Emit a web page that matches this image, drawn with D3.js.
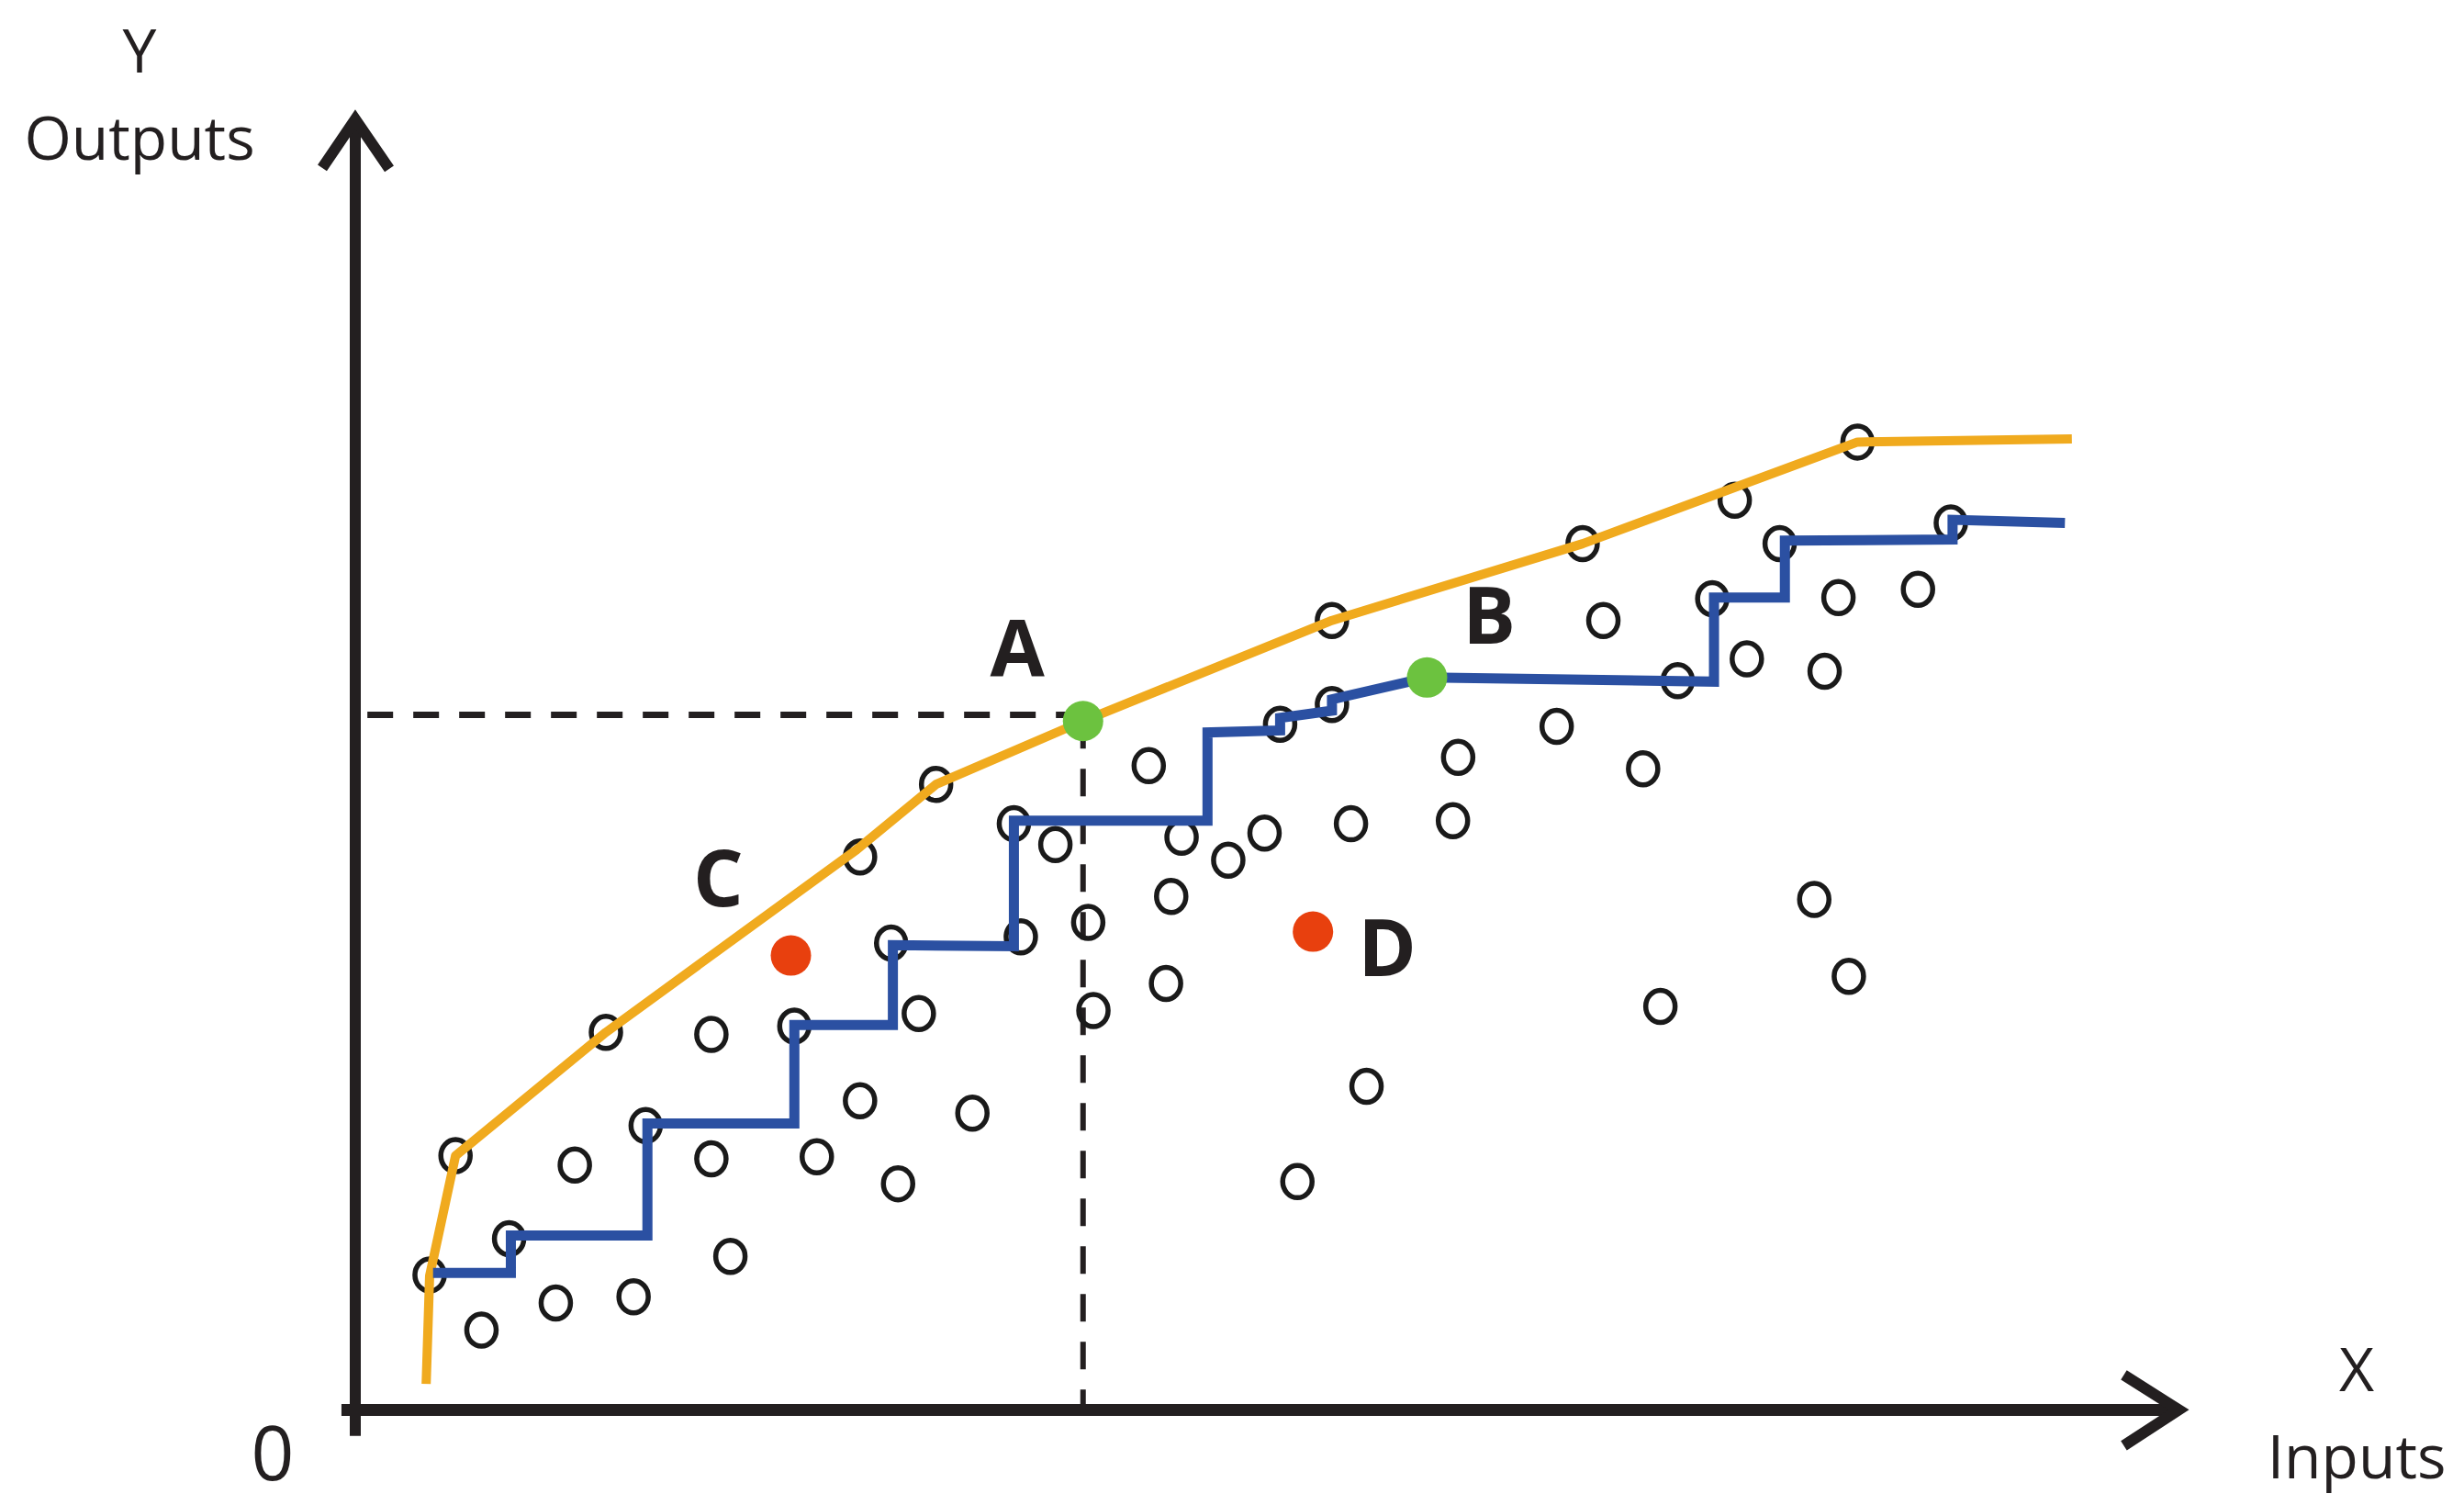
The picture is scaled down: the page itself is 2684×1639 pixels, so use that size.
<!DOCTYPE html>
<html>
<head>
<meta charset="utf-8">
<script src="https://cdn.jsdelivr.net/npm/d3@7"></script>
<style>
  html, body { margin: 0; padding: 0; background: #ffffff; }
  svg { display: block; }
  text { font-family: "Open Sans", "DejaVu Sans", sans-serif; fill: #231f20; }
</style>
</head>
<body>
<svg id="chart"></svg>
<script>
// ---------------- DATA ----------------
// Observed decision-making units (hollow circles): [input X, output Y]
const observedX = [4.3, 7.3, 5.8, 8.9, 11.6, 12.7, 16.1, 16.8, 14.5, 20.6, 20.6, 21.7, 25.4, 26.7, 29.2, 31.4,
  29.2, 31.0, 32.6, 35.7, 33.6, 38.1, 38.5, 40.5, 42.4, 42.7, 45.9, 47.8, 47.2, 46.9, 50.5, 52.6,
  53.5, 56.5, 56.5, 57.6, 58.5, 54.5, 63.8, 63.5, 69.5, 72.2, 71.0, 74.5, 76.5, 75.5, 79.8, 78.5,
  80.5, 82.4, 85.8, 85.0, 84.4, 86.4, 86.9, 90.4, 92.3];
const observedY = [13.0, 7.7, 24.5, 16.5, 10.3, 23.6, 10.9, 27.4, 36.4, 36.2, 24.2, 14.8, 37.0, 24.4, 29.8, 21.8,
  53.3, 45.0, 38.2, 28.6, 60.3, 56.5, 45.6, 54.5, 47.0, 38.5, 62.1, 55.2, 49.5, 41.1, 53.0, 55.6,
  66.1, 68.0, 76.1, 56.5, 31.2, 22.0, 62.9, 56.8, 65.9, 76.1, 83.5, 61.8, 70.3, 38.9, 87.7, 78.2,
  72.4, 83.5, 78.3, 71.2, 49.2, 41.8, 93.3, 79.1, 85.5];

// Convex (yellow) frontier vertices
const convexX = [4.1, 4.3, 5.8, 14.5, 29.0, 33.6, 42.1, 56.5, 71.0, 86.9, 99.3];
const convexY = [2.5, 12.9, 24.5, 36.4, 54.0, 60.3, 66.4, 76.1, 83.5, 93.3, 93.6];

// Staircase (blue) frontier vertices
const stairX = [4.5, 9.0, 9.0, 16.9, 16.9, 25.4, 25.4, 31.1, 31.1, 38.1, 38.1, 49.3, 49.3, 53.5, 53.5,
  56.5, 56.5, 62.0, 78.6, 78.6, 82.7, 82.7, 92.4, 92.4, 98.9];
const stairY = [13.2, 13.2, 16.8, 16.8, 27.6, 27.6, 37.1, 37.1, 44.8, 44.7, 56.8, 56.8, 65.3, 65.5, 66.7,
  67.4, 68.5, 70.6, 70.2, 78.3, 78.3, 83.8, 83.9, 85.8, 85.5];

// Highlighted points
const greenNames = ["A", "B"];
const greenX = [42.1, 62.0];
const greenY = [66.4, 70.6];
const redNames = ["C", "D"];
const redX = [25.2, 55.4];
const redY = [43.8, 46.1];

// Dashed guide lines (projection of A onto the axes)
const guideX = [0.7, 42.1];
const guideY = [67.0, 0];

// Point letters (positions in data units, baseline)
const letterText = ["A", "B", "C", "D"];
const letterX = [38.3, 65.6, 21.0, 59.7];
const letterY = [70.7, 73.9, 48.5, 41.8];

// Axis titles and origin label
const yTitle = ["Y", "Outputs"];
const xTitle = ["X", "Inputs"];
const originLabel = ["0"];

// Axis extents (data units)
const xAxisExtent = [-0.8, 105.6];
const yAxisExtent = [-2.5, 124.6];

// ---------------- DRAWING ----------------
const W = 2684, H = 1639;
const COLORS = { axis: "#231f20", convex: "#f0aa1e", stair: "#2b50a2", green: "#6cc23f", red: "#e8400e", dash: "#231f20" };

const svg = d3.select("#chart").attr("width", W).attr("height", H).attr("viewBox", `0 0 ${W} ${H}`);

const x = d3.scaleLinear().domain([0, 100]).range([387, 2270]);
const y = d3.scaleLinear().domain([0, 100]).range([1535.4, 405.7]);

const zip = (xs, ys) => xs.map((v, i) => [v, ys[i]]);
const line = d3.line().x(d => x(d[0])).y(d => y(d[1]));

// Axes
const axes = svg.append("g").attr("stroke", COLORS.axis).attr("fill", "none")
  .attr("stroke-width", 12).attr("stroke-linecap", "butt");
axes.append("line").attr("x1", x(0)).attr("x2", x(0)).attr("y1", y(yAxisExtent[0])).attr("y2", y(yAxisExtent[1]) + 4);
axes.append("line").attr("y1", y(0)).attr("y2", y(0)).attr("x1", x(xAxisExtent[0])).attr("x2", x(xAxisExtent[1]) - 4)
  .attr("stroke-width", 13);
// arrowheads
const yt = [x(0), y(yAxisExtent[1])];
axes.append("path").attr("stroke-width", 12).attr("stroke-linejoin", "miter")
  .attr("d", `M${yt[0] - 36},${yt[1] + 55} L${yt[0]},${yt[1] + 2} L${yt[0] + 37},${yt[1] + 56}`);
const xt = [x(xAxisExtent[1]), y(0)];
axes.append("path").attr("stroke-width", 12).attr("stroke-linejoin", "miter")
  .attr("d", `M${xt[0] - 62},${xt[1] - 38} L${xt[0] - 2},${xt[1]} L${xt[0] - 62},${xt[1] + 39}`);

// Dashed guide lines to A
svg.append("path").attr("fill", "none").attr("stroke", COLORS.dash).attr("stroke-width", 7)
  .attr("stroke-dasharray", "28 22")
  .attr("d", `M${x(guideX[0])},${y(guideY[0])} L${x(guideX[1])},${y(guideY[0])}`);
svg.append("path").attr("fill", "none").attr("stroke", COLORS.dash).attr("stroke-width", 6)
  .attr("stroke-dasharray", "30 22")
  .attr("d", `M${x(guideX[1])},${y(greenY[0])} L${x(guideX[1])},${y(guideY[1])}`);

// Hollow observations
svg.append("g").selectAll("ellipse").data(zip(observedX, observedY)).join("ellipse")
  .attr("cx", d => x(d[0])).attr("cy", d => y(d[1]))
  .attr("rx", 16).attr("ry", 17.5)
  .attr("fill", "none").attr("stroke", "#1a1a1a").attr("stroke-width", 5.5);

// Frontiers
svg.append("path").datum(zip(convexX, convexY)).attr("d", line)
  .attr("fill", "none").attr("stroke", COLORS.convex).attr("stroke-width", 10).attr("stroke-linejoin", "round");
svg.append("path").datum(zip(stairX, stairY)).attr("d", line)
  .attr("fill", "none").attr("stroke", COLORS.stair).attr("stroke-width", 11).attr("stroke-linejoin", "miter");

// Highlighted points
svg.append("g").selectAll("circle").data(zip(greenX, greenY)).join("circle")
  .attr("cx", d => x(d[0])).attr("cy", d => y(d[1])).attr("r", 22).attr("fill", COLORS.green);
svg.append("g").selectAll("circle").data(zip(redX, redY)).join("circle")
  .attr("cx", d => x(d[0])).attr("cy", d => y(d[1])).attr("r", 22).attr("fill", COLORS.red);

// Letters
svg.append("g").selectAll("text").data(letterText.map((t, i) => ({ t, x: letterX[i], y: letterY[i] }))).join("text")
  .attr("x", d => x(d.x)).attr("y", d => y(d.y))
  .attr("text-anchor", "middle").attr("font-weight", 700).attr("font-size", 86)
  .text(d => d.t);

// Axis titles
const yTitleG = svg.append("g").attr("text-anchor", "middle").attr("font-size", 66);
yTitleG.append("text").attr("x", 152).attr("y", 79).text(yTitle[0]);
yTitleG.append("text").attr("x", 152).attr("y", 174).text(yTitle[1]);
const xTitleG = svg.append("g").attr("text-anchor", "middle").attr("font-size", 66);
xTitleG.append("text").attr("x", 2567).attr("y", 1515).text(xTitle[0]);
xTitleG.append("text").attr("x", 2567).attr("y", 1610).text(xTitle[1]);
svg.append("text").attr("x", 297).attr("y", 1612).attr("text-anchor", "middle").attr("font-size", 82).text(originLabel[0]);
</script>
</body>
</html>
